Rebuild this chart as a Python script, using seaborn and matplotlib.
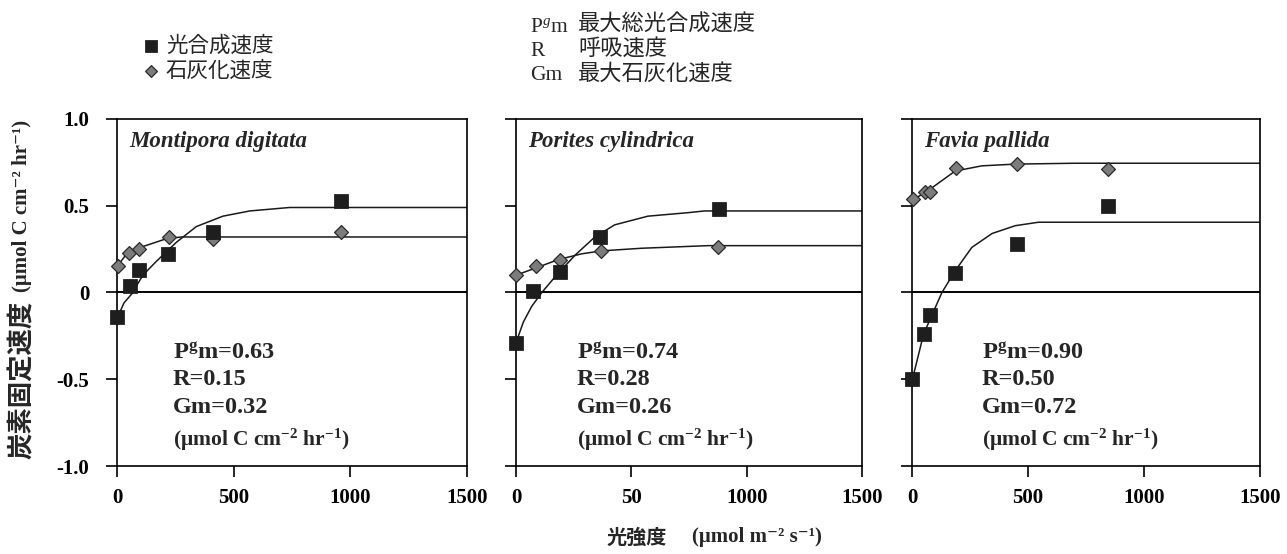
import numpy as np
import pandas as pd
import matplotlib
matplotlib.use('Agg')
import matplotlib.pyplot as plt
import seaborn as sns

# ---------------- style ----------------
sns.set_theme(style='ticks')
SERIF = ['Liberation Serif', 'Noto Sans CJK JP', 'DejaVu Serif']
CJK = ['Noto Sans CJK JP', 'Liberation Serif', 'DejaVu Serif']
plt.rcParams['font.family'] = SERIF
plt.rcParams['axes.unicode_minus'] = False
plt.rcParams['mathtext.fontset'] = 'custom'
plt.rcParams['mathtext.rm'] = 'Liberation Serif'
plt.rcParams['mathtext.it'] = 'Liberation Serif:italic'
plt.rcParams['mathtext.bf'] = 'Liberation Serif:bold'

# ---------------- data ----------------
species = ['Montipora digitata', 'Porites cylindrica', 'Favia pallida']
x_ticks = [0, 500, 1000, 1500]
x_ticklabels = [['0', '500', '1000', '1500'],
                ['0', '50', '1000', '1500'],
                ['0', '500', '1000', '1500']]
y_ticks = [-1.0, -0.5, 0, 0.5, 1.0]
y_ticklabels = ['-1.0', '-0.5', '0', '0.5', '1.0']
pgm_vals = ['0.63', '0.74', '0.90']
r_vals = ['0.15', '0.28', '0.50']
gm_vals = ['0.32', '0.26', '0.72']

# Montipora digitata
md_photo_x = [0, 54, 94, 219, 411, 962]
md_photo_y = [-0.14, 0.04, 0.13, 0.22, 0.35, 0.53]
md_calc_x = [4, 51, 94, 222, 411, 962]
md_calc_y = [0.155, 0.225, 0.25, 0.32, 0.31, 0.35]
md_photo_fit_x = [0, 30, 62, 111, 169, 255, 340, 454, 569, 740, 1500]
md_photo_fit_y = [-0.15, -0.06, -0.01, 0.10, 0.18, 0.29, 0.38, 0.44, 0.47, 0.49, 0.49]
md_calc_fit_x = [0, 40, 111, 212, 276, 1500]
md_calc_fit_y = [0.15, 0.22, 0.265, 0.31, 0.32, 0.32]

# Porites cylindrica
pc_photo_x = [0, 75, 190, 363, 881]
pc_photo_y = [-0.29, 0.01, 0.12, 0.32, 0.48]
pc_calc_x = [0, 85, 190, 369, 877]
pc_calc_y = [0.10, 0.15, 0.19, 0.24, 0.26]
pc_photo_fit_x = [0, 32, 68, 112, 169, 256, 342, 428, 572, 745, 817, 1500]
pc_photo_fit_y = [-0.29, -0.17, -0.08, 0.0, 0.09, 0.215, 0.32, 0.39, 0.44, 0.46, 0.47, 0.47]
pc_calc_fit_x = [0, 83, 184, 285, 371, 544, 831, 1500]
pc_calc_fit_y = [0.10, 0.14, 0.19, 0.223, 0.24, 0.255, 0.27, 0.27]

# Favia pallida
fp_photo_x = [0, 50, 76, 186, 451, 846]
fp_photo_y = [-0.50, -0.24, -0.13, 0.11, 0.28, 0.50]
fp_calc_x = [4, 57, 78, 190, 451, 846]
fp_calc_y = [0.54, 0.58, 0.58, 0.72, 0.74, 0.71]
fp_photo_fit_x = [0, 50, 86, 129, 186, 258, 345, 445, 545, 1500]
fp_photo_fit_y = [-0.51, -0.24, -0.13, 0.0, 0.125, 0.26, 0.34, 0.385, 0.405, 0.405]
fp_calc_fit_x = [0, 72, 186, 301, 445, 700, 1500]
fp_calc_fit_y = [0.53, 0.59, 0.70, 0.73, 0.74, 0.745, 0.745]

panels = [
    (md_photo_x, md_photo_y, md_calc_x, md_calc_y,
     md_photo_fit_x, md_photo_fit_y, md_calc_fit_x, md_calc_fit_y),
    (pc_photo_x, pc_photo_y, pc_calc_x, pc_calc_y,
     pc_photo_fit_x, pc_photo_fit_y, pc_calc_fit_x, pc_calc_fit_y),
    (fp_photo_x, fp_photo_y, fp_calc_x, fp_calc_y,
     fp_photo_fit_x, fp_photo_fit_y, fp_calc_fit_x, fp_calc_fit_y),
]

# ---------------- figure ----------------
W, H = 1287, 554
fig = plt.figure(figsize=(W / 100, H / 100), dpi=100)
fig.patch.set_facecolor('white')

# axes boxes in pixels: (left, right)
px_lr = [(117, 467), (516, 862), (912, 1260)]
top_px, bot_px = 119, 466
text_x = [0.159, 0.176, 0.20]

axes = []
for i, (l, r) in enumerate(px_lr):
    ax = fig.add_axes([l / W, 1 - bot_px / H, (r - l) / W, (bot_px - top_px) / H])
    axes.append(ax)
    px, py, cx, cy, pfx, pfy, cfx, cfy = panels[i]

    ax.axhline(0, color='black', lw=1.4, zorder=1)
    sns.lineplot(x=pfx, y=pfy, ax=ax, color='#1a1a1a', lw=1.1,
                 estimator=None, sort=False, zorder=2)
    sns.lineplot(x=cfx, y=cfy, ax=ax, color='#1a1a1a', lw=1.1,
                 estimator=None, sort=False, zorder=2)
    sns.scatterplot(x=cx, y=cy, ax=ax, marker='D', s=50, color='#7c7c7c',
                    edgecolor='#2a2a2a', linewidth=0.9, zorder=3, clip_on=False,
                    label='石灰化速度' if i == 0 else None)
    sns.scatterplot(x=px, y=py, ax=ax, marker='s', s=105, color='#1e1e1e',
                    edgecolor='#111111', linewidth=0.5, zorder=4, clip_on=False,
                    label='光合成速度' if i == 0 else None)

    ax.set_xlim(0, 1500)
    ax.set_ylim(-1, 1)
    ax.set_xticks(x_ticks)
    ax.set_xticklabels(x_ticklabels[i], fontweight='bold', fontsize=15)
    ax.set_yticks(y_ticks)
    if i == 0:
        ax.set_yticklabels(y_ticklabels, fontweight='bold', fontsize=15)
    else:
        ax.set_yticklabels([])
    ax.tick_params(axis='x', direction='out', length=8, width=1.2, pad=8, colors='black')
    ax.tick_params(axis='y', direction='out', length=8, width=1.2, pad=12, colors='black')
    for s in ax.spines.values():
        s.set_visible(True)
        s.set_linewidth(1.2)
        s.set_color('black')
    ax.set_xlabel('')
    ax.set_ylabel('')

    ax.text(0.035, 0.935, species[i], transform=ax.transAxes, fontsize=16.5,
            fontstyle='italic', fontweight='bold', va='center', ha='left')
    tx = text_x[i]
    ax.text(tx, 0.326, r'P$^{\mathbf{g}}$m=' + pgm_vals[i], transform=ax.transAxes,
            fontsize=17.5, fontweight='bold', va='center', ha='left')
    ax.text(tx, 0.25, 'R=' + r_vals[i], transform=ax.transAxes,
            fontsize=17.5, fontweight='bold', va='center', ha='left')
    ax.text(tx, 0.17, 'Gm=' + gm_vals[i], transform=ax.transAxes,
            fontsize=17.5, fontweight='bold', va='center', ha='left')
    ax.text(tx, 0.075, r'(μmol C cm$^{\mathbf{-2}}$ hr$^{\mathbf{-1}}$)',
            transform=ax.transAxes, fontsize=15.5, fontweight='bold',
            va='center', ha='left')

# legend (top left)
handles, labels = axes[0].get_legend_handles_labels()
if axes[0].get_legend() is not None:
    axes[0].get_legend().remove()
order = [labels.index('光合成速度'), labels.index('石灰化速度')]
fig.legend([handles[k] for k in order], [labels[k] for k in order],
           loc='upper left', bbox_to_anchor=(140 / W, 1 - 35 / H),
           frameon=False, prop={'family': CJK, 'size': 15.5},
           handletextpad=0.2, labelspacing=0.12, handlelength=1.0,
           borderaxespad=0, borderpad=0, markerscale=0.85)

# parameter key (top middle)
key_rows = [(r'P$^{g}$m', '最大総光合成速度', 27),
            ('R', '呼吸速度', 51),
            ('Gm', '最大石灰化速度', 76)]
for sym, desc, yy in key_rows:
    fig.text(530 / W, 1 - yy / H, sym, fontsize=15.5, va='center', ha='left')
    fig.text(578 / W, 1 - (yy - 3) / H, desc, fontsize=16, va='center',
             ha='left', family=CJK)

# axis labels (Japanese part and unit part set separately)
fig.text(22 / W, 1 - 380 / H, '炭素固定速度', rotation=90,
         fontsize=19, fontweight='bold', va='center', ha='center', family=CJK)
fig.text(22 / W, 1 - 206 / H, '(μmol C cm⁻² hr⁻¹)', rotation=90,
         fontsize=15, fontweight='bold', va='center', ha='center', family=SERIF)
fig.text(607 / W, 1 - 537 / H, '光強度', fontsize=14.5,
         fontweight='bold', va='center', ha='left', family=CJK)
fig.text(822 / W, 1 - 537 / H, '(μmol m⁻² s⁻¹)', fontsize=15,
         fontweight='bold', va='center', ha='right', family=SERIF)

fig.savefig('out.png', dpi=100)
